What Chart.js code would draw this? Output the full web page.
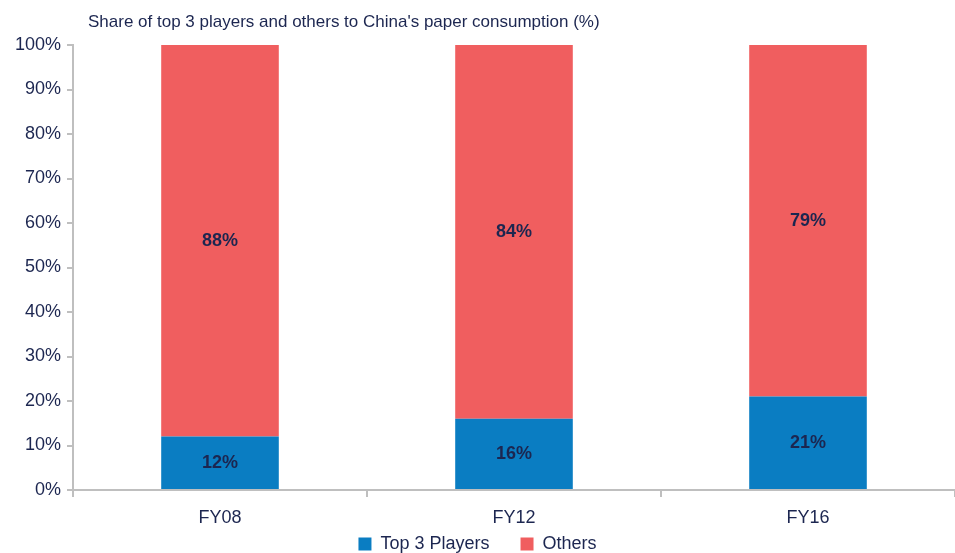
<!DOCTYPE html>
<html>
<head>
<meta charset="utf-8">
<script src="https://cdn.jsdelivr.net/npm/chart.js@4/dist/chart.umd.min.js"></script>
<style>
  html, body { margin: 0; padding: 0; background: #fff; }
  #wrap { width: 955px; height: 553px; position: relative; }
</style>
</head>
<body>
<div id="wrap"><canvas id="paperChart"></canvas></div>
<script>
const categories = ["FY08", "FY12", "FY16"];
const top3Share = [12, 16, 21];
const othersShare = [88, 84, 79];
const yTicks = [0, 10, 20, 30, 40, 50, 60, 70, 80, 90, 100];

const FONT = "'Liberation Sans Narrow', 'Arial Narrow', 'Liberation Sans', Arial, sans-serif";
const TEXT = "#1c2650";
const AXIS = "#bfbfbf";

// bold value labels in the middle of each stacked segment
const segmentLabels = {
    id: "segmentLabels",
    afterDatasetsDraw(chart) {
        const ctx = chart.ctx;
        ctx.save();
        ctx.font = "bold 18px " + FONT;
        ctx.fillStyle = TEXT;
        ctx.textAlign = "center";
        ctx.textBaseline = "middle";
        chart.data.datasets.forEach((ds, i) => {
            chart.getDatasetMeta(i).data.forEach((bar, j) => {
                const y = (bar.y + bar.base) / 2;
                ctx.fillText(ds.data[j] + "%", bar.x, y);
            });
        });
        ctx.restore();
    }
};

// chart heading, set just right of the value axis
const heading = {
    id: "heading",
    afterDraw(chart) {
        const ctx = chart.ctx;
        ctx.save();
        ctx.font = "17px " + FONT;
        ctx.fillStyle = TEXT;
        ctx.textBaseline = "middle";
        ctx.fillText("Share of top 3 players and others to China's paper consumption (%)", chart.chartArea.left + 15, 22);
        ctx.restore();
    }
};

const ctx = document.getElementById("paperChart");
new Chart(ctx, {
    type: "bar",
    data: {
        labels: categories,
        datasets: [
            {
                label: "Top 3 Players",
                data: top3Share,
                backgroundColor: "#0a7dc2",
                barPercentage: 0.4,
                categoryPercentage: 1.0
            },
            {
                label: "Others",
                data: othersShare,
                backgroundColor: "#f05e5f",
                barPercentage: 0.4,
                categoryPercentage: 1.0
            }
        ]
    },
    options: {
        responsive: true,
        maintainAspectRatio: false,
        animation: false,
        layout: {
            // legend sits low, nearly on the bottom edge
            padding: { top: 45, right: 0, left: 0, bottom: -10 }
        },
        plugins: {
            legend: {
                position: "bottom",
                labels: {
                    color: TEXT,
                    font: { size: 18, family: FONT },
                    boxWidth: 13,
                    boxHeight: 13,
                    padding: 6,
                    generateLabels(chart) {
                        // wider gap between the two legend entries
                        const items = Chart.defaults.plugins.legend.labels.generateLabels(chart);
                        items[0].text = items[0].text + "     ";
                        return items;
                    }
                }
            },
            title: { display: false },
            tooltip: { enabled: false }
        },
        scales: {
            x: {
                stacked: true,
                grid: {
                    display: true,
                    offset: true,
                    drawOnChartArea: false,
                    color: AXIS,
                    tickLength: 7,
                    lineWidth: 2
                },
                border: { color: AXIS, width: 2 },
                ticks: {
                    color: TEXT,
                    font: { size: 18, family: FONT },
                    padding: 10
                },
                afterFit(scale) { scale.height = 39; }
            },
            y: {
                stacked: true,
                min: 0,
                max: 100,
                afterBuildTicks(scale) {
                    scale.ticks = yTicks.map(v => ({ value: v }));
                },
                grid: {
                    drawOnChartArea: false,
                    color: AXIS,
                    tickLength: 6,
                    lineWidth: 2
                },
                border: { color: AXIS, width: 2 },
                ticks: {
                    color: TEXT,
                    font: { size: 18, family: FONT },
                    padding: 6,
                    callback: v => v + "%"
                },
                afterFit(scale) { scale.width = 73; }
            }
        }
    },
    plugins: [segmentLabels, heading]
});
</script>
</body>
</html>
